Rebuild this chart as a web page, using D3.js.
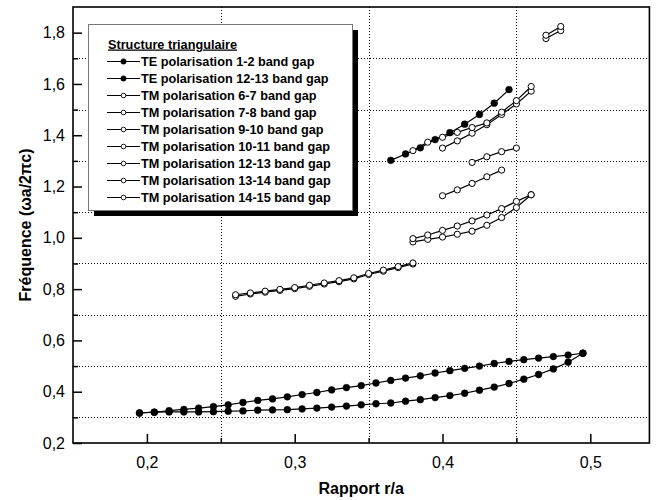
<!DOCTYPE html>
<html><head><meta charset="utf-8">
<script src="https://cdn.jsdelivr.net/npm/d3@7"></script>
<style>body{margin:0;background:#fff}svg{display:block}</style>
</head><body><svg id="c" width="657" height="500"></svg>
<script>
// ---------- data ----------
const xTicks = [0.2, 0.3, 0.4, 0.5];
const xMinor = [0.25, 0.35, 0.45];
const yTicks = [0.2, 0.4, 0.6, 0.8, 1.0, 1.2, 1.4, 1.6, 1.8];
const yMinor = [0.3, 0.5, 0.7, 0.9, 1.1, 1.3, 1.5, 1.7];

const rTE12 = [0.195,0.205,0.215,0.225,0.235,0.245,0.255,0.265,0.275,0.285,0.295,0.305,0.315,0.325,0.335,0.345,0.355,0.365,0.375,0.385,0.395,0.405,0.415,0.425,0.435,0.445,0.455,0.465,0.475,0.485,0.495];
const te12Lower = [0.317,0.320,0.321,0.321,0.321,0.322,0.324,0.325,0.328,0.329,0.330,0.333,0.336,0.340,0.344,0.349,0.353,0.356,0.363,0.369,0.377,0.385,0.394,0.406,0.418,0.432,0.449,0.467,0.489,0.515,0.550];
const te12Upper = [0.317,0.320,0.326,0.331,0.336,0.342,0.349,0.358,0.366,0.372,0.380,0.389,0.397,0.407,0.416,0.424,0.434,0.444,0.453,0.462,0.473,0.482,0.491,0.500,0.510,0.518,0.525,0.531,0.537,0.543,0.550];

const rTE1213 = [0.365,0.375,0.385,0.395,0.405,0.415,0.425,0.435,0.445];
const te1213 = [1.302,1.327,1.351,1.383,1.410,1.443,1.481,1.525,1.578];

const rTM67 = [0.26,0.27,0.28,0.29,0.30,0.31,0.32,0.33,0.34,0.35,0.36,0.37,0.38];
const tm67Lower = [0.772,0.781,0.788,0.795,0.802,0.811,0.820,0.829,0.840,0.857,0.870,0.884,0.898];
const tm67Upper = [0.778,0.785,0.792,0.799,0.806,0.815,0.824,0.833,0.844,0.861,0.874,0.888,0.902];

const rTM78 = [0.38,0.39,0.40,0.41,0.42,0.43,0.44,0.45,0.46];
const tm78Lower = [0.984,0.994,1.003,1.014,1.026,1.049,1.079,1.118,1.168];
const tm78Upper = [0.997,1.011,1.029,1.046,1.066,1.089,1.114,1.142,1.168];

const rTM910 = [0.40,0.41,0.42,0.43,0.44];
const tm910 = [1.164,1.187,1.212,1.238,1.264];

const rTM1011 = [0.42,0.43,0.44,0.45];
const tm1011 = [1.294,1.316,1.336,1.350];

const rTM1213 = [0.40,0.41,0.42,0.43,0.44,0.45,0.46];
const tm1213 = [1.350,1.378,1.408,1.441,1.481,1.522,1.572];

const rTM1314 = [0.38,0.39,0.40,0.41,0.42,0.43,0.44,0.45,0.46];
const tm1314 = [1.340,1.373,1.392,1.411,1.430,1.448,1.490,1.535,1.590];

const rTM1415 = [0.47,0.48];
const tm1415Lower = [1.777,1.808];
const tm1415Upper = [1.790,1.824];

const legendTitle = "Structure triangulaire";
const legendLabels = [
  "TE polarisation 1-2 band gap",
  "TE polarisation 12-13 band gap",
  "TM polarisation 6-7 band gap",
  "TM polarisation 7-8 band gap",
  "TM polarisation 9-10 band gap",
  "TM polarisation 10-11 band gap",
  "TM polarisation 12-13 band gap",
  "TM polarisation 13-14 band gap",
  "TM polarisation 14-15 band gap"
];
const legendFilled = [true, true, false, false, false, false, false, false, false];

// ---------- chart ----------
const FONT = "'Liberation Sans', Arial, Helvetica, sans-serif";
const svg = d3.select("#c");
const L = 73, T = 7, B = 443;
const x = d3.scaleLinear().domain([0.15, 0.54]).range([L, L + 0.39 * 1478]);
const R = x(0.54);
const y = d3.scaleLinear().domain([0.2, 1.9]).range([B, T]);
const fmt = v => d3.format(".1f")(v).replace(".", ",");

// grid
const grid = svg.append("g").attr("stroke", "#000").attr("stroke-width", 1).attr("stroke-dasharray", "1,2");
grid.selectAll(".gv").data(xMinor).join("line")
  .attr("x1", d => Math.round(x(d)) + 0.5).attr("x2", d => Math.round(x(d)) + 0.5)
  .attr("y1", T).attr("y2", B);
grid.selectAll(".gh").data(yMinor).join("line")
  .attr("y1", d => Math.round(y(d)) + 0.5).attr("y2", d => Math.round(y(d)) + 0.5)
  .attr("x1", L).attr("x2", R);

// series
const series = [
  {filled: true, edges: [[rTE12, te12Lower], [rTE12, te12Upper]]},
  {filled: true, edges: [[rTE1213, te1213]]},
  {filled: false, edges: [[rTM67, tm67Lower], [rTM67, tm67Upper]]},
  {filled: false, edges: [[rTM78, tm78Lower], [rTM78, tm78Upper]]},
  {filled: false, edges: [[rTM910, tm910]]},
  {filled: false, edges: [[rTM1011, tm1011]]},
  {filled: false, edges: [[rTM1213, tm1213]]},
  {filled: false, edges: [[rTM1314, tm1314]]},
  {filled: false, edges: [[rTM1415, tm1415Lower], [rTM1415, tm1415Upper]]}
];
const line = d3.line().x(d => x(d[0])).y(d => y(d[1]));
const plot = svg.append("g");
series.forEach(s => {
  s.edges.forEach(([rs, vs]) => {
    const pts = rs.map((r, i) => [r, vs[i]]);
    plot.append("path").datum(pts).attr("d", line)
      .attr("fill", "none").attr("stroke", "#000").attr("stroke-width", 1.2);
  });
  s.edges.forEach(([rs, vs]) => {
    const pts = rs.map((r, i) => [r, vs[i]]);
    plot.selectAll(null).data(pts).join("circle")
      .attr("cx", d => x(d[0])).attr("cy", d => y(d[1]))
      .attr("r", s.filled ? 3.4 : 3.1)
      .attr("fill", s.filled ? "#000" : "#fff")
      .attr("stroke", "#000").attr("stroke-width", s.filled ? 0.5 : 1);
  });
});

// axes
svg.append("g").attr("transform", `translate(0,${B})`)
  .call(d3.axisBottom(x).tickValues(xTicks).tickSize(-9).tickPadding(14).tickFormat(fmt));
svg.append("g").attr("transform", `translate(0,${B})`)
  .call(d3.axisBottom(x).tickValues(xMinor).tickSize(-5).tickFormat(""));
svg.append("g").attr("transform", `translate(${L},0)`)
  .call(d3.axisLeft(y).tickValues(yTicks).tickSize(-9).tickPadding(8).tickFormat(fmt));
svg.append("g").attr("transform", `translate(${L},0)`)
  .call(d3.axisLeft(y).tickValues(yMinor).tickSize(-5).tickFormat(""));
svg.selectAll(".domain").remove();
svg.selectAll(".tick line").attr("stroke", "#000").attr("stroke-width", 1.5);
svg.selectAll(".tick text").attr("font-family", FONT).attr("font-size", 16).attr("fill", "#000");

// frame
svg.append("rect").attr("x", L).attr("y", T).attr("width", R - L).attr("height", B - T)
  .attr("fill", "none").attr("stroke", "#000").attr("stroke-width", 1.6);

// axis titles
svg.append("text").attr("x", (L + R) / 2).attr("y", 494).attr("text-anchor", "middle")
  .attr("font-family", FONT).attr("font-weight", "bold").attr("font-size", 16).text("Rapport r/a");
svg.append("text").attr("transform", `translate(31,${(T + B) / 2}) rotate(-90)`).attr("text-anchor", "middle")
  .attr("font-family", FONT).attr("font-weight", "bold").attr("font-size", 16).text("Fréquence (ωa/2πc)");

// legend
const lg = svg.append("g");
const lx = 88, ly = 24, lw = 264, lh = 186;
lg.append("rect").attr("x", lx + 6).attr("y", ly + 6).attr("width", lw).attr("height", lh).attr("fill", "#000");
lg.append("rect").attr("x", lx + 0.5).attr("y", ly + 0.5).attr("width", lw).attr("height", lh)
  .attr("fill", "#fff").attr("stroke", "#777").attr("stroke-width", 1);
lg.append("text").attr("x", 108).attr("y", 48.5).attr("font-family", FONT).attr("font-weight", "bold")
  .attr("font-size", 12.7).attr("text-decoration", "underline").text(legendTitle);
legendLabels.forEach((lab, i) => {
  const cy = 61.5 + i * 17;
  lg.append("line").attr("x1", 107).attr("x2", 140).attr("y1", cy).attr("y2", cy)
    .attr("stroke", "#000").attr("stroke-width", 1.1);
  lg.append("circle").attr("cx", 123.5).attr("cy", cy).attr("r", legendFilled[i] ? 2.6 : 2.3)
    .attr("fill", legendFilled[i] ? "#000" : "#fff").attr("stroke", "#000").attr("stroke-width", 0.9);
  lg.append("text").attr("x", 141).attr("y", cy + 4.5).attr("font-family", FONT).attr("font-weight", "bold")
    .attr("font-size", 12.7).text(lab);
});
</script></body></html>
